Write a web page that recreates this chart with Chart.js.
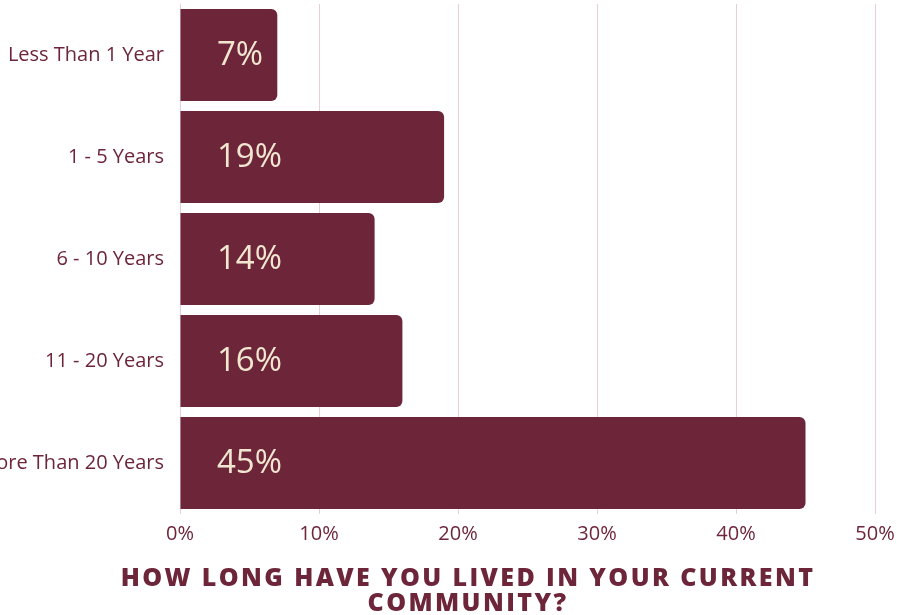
<!DOCTYPE html>
<html>
<head>
<meta charset="utf-8">
<script src="https://cdn.jsdelivr.net/npm/chart.js@4.4.1/dist/chart.umd.min.js"></script>
<style>
  html, body { margin: 0; padding: 0; background: #fff; }
  #wrap { width: 897px; height: 615px; }
</style>
</head>
<body>
<div id="wrap"><canvas id="tenure" width="897" height="615"></canvas></div>
<script>
var categories = ['Less Than 1 Year', '1 - 5 Years', '6 - 10 Years', '11 - 20 Years', 'More Than 20 Years'];
var shares = [7, 19, 14, 16, 45];
var titleLines = ['HOW LONG HAVE YOU LIVED IN YOUR CURRENT', 'COMMUNITY?'];

var wine = '#6d2539';
var cream = '#f1e7d0';
var gridPink = '#e6d0d6';
var fontFamily = '"Open Sans", "DejaVu Sans", sans-serif';

// percentages written inside each bar, near its left end
var valueLabels = {
    id: 'valueLabels',
    afterDatasetsDraw: function(chart) {
        var ctx = chart.ctx;
        var meta = chart.getDatasetMeta(0);
        ctx.save();
        ctx.fillStyle = cream;
        ctx.font = '500 33px ' + fontFamily;
        ctx.textAlign = 'left';
        ctx.textBaseline = 'middle';
        meta.data.forEach(function(bar, i) {
            ctx.fillText(shares[i] + '%', chart.chartArea.left + 37, bar.y + 1);
        });
        ctx.restore();
    }
};

// two-line bold caption under the axis
var caption = {
    id: 'caption',
    afterDraw: function(chart) {
        var ctx = chart.ctx;
        ctx.save();
        ctx.fillStyle = wine;
        ctx.font = '800 25px ' + fontFamily;
        ctx.letterSpacing = '2.4px';
        ctx.textAlign = 'center';
        ctx.textBaseline = 'middle';
        ctx.fillText(titleLines[0], 468, 579);
        ctx.fillText(titleLines[1], 468, 604);
        ctx.restore();
    }
};

new Chart(document.getElementById('tenure').getContext('2d'), {
    type: 'bar',
    data: {
        labels: categories,
        datasets: [{
            data: shares,
            backgroundColor: wine,
            borderWidth: 0,
            borderRadius: 6,
            borderSkipped: 'start',
            barPercentage: 0.9,
            categoryPercentage: 1
        }]
    },
    options: {
        indexAxis: 'y',
        responsive: false,
        animation: false,
        layout: { padding: { top: 4, right: 22, left: 0, bottom: 0 } },
        plugins: {
            legend: { display: false },
            tooltip: { enabled: false }
        },
        scales: {
            x: {
                min: 0,
                max: 50,
                afterFit: function(scale) {
                    scale.height = 101;
                    scale.paddingLeft = 0;
                    scale.paddingRight = 0;
                },
                grid: { color: gridPink, drawTicks: false },
                border: { display: false },
                ticks: {
                    stepSize: 10,
                    padding: 8,
                    color: wine,
                    font: { family: fontFamily, size: 20 },
                    callback: function(v) { return v + '%'; }
                }
            },
            y: {
                afterFit: function(scale) {
                    scale.width = 180;
                    scale.paddingTop = 0;
                    scale.paddingBottom = 0;
                },
                grid: { display: false, drawTicks: false },
                border: { display: false },
                ticks: {
                    padding: 16,
                    color: wine,
                    font: { family: fontFamily, size: 20 }
                }
            }
        }
    },
    plugins: [valueLabels, caption]
});
</script>
</body>
</html>
